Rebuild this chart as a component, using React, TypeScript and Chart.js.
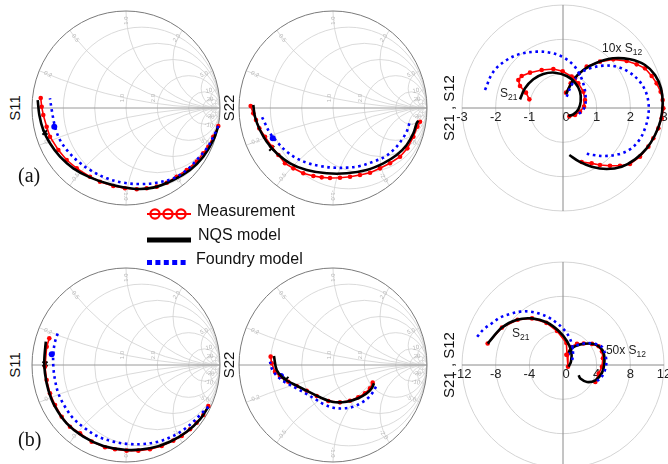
import React, { useEffect, useRef } from "react";
import { Chart, registerables } from "chart.js";
Chart.register(...registerables);

const SANS = "'Liberation Sans', Arial, sans-serif";
const SERIF = "'Liberation Serif', 'Times New Roman', serif";
const RED = "#ff0000";
const BLACK = "#000000";
const BLUE = "#0000ff";

// ---------------- Smith chart data (reflection coefficient, re / im) ----------------
// (a) S11
const measRe11a = [0.982, 0.929, 0.876, 0.822, 0.752, 0.646, 0.539, 0.433, 0.327, 0.22, 0.114, -0.011, -0.135, -0.277, -0.383, -0.524, -0.631, -0.72, -0.809, -0.844, -0.88, -0.897, -0.907];
const measIm11a = [-0.186, -0.296, -0.399, -0.467, -0.553, -0.639, -0.708, -0.77, -0.811, -0.828, -0.838, -0.828, -0.804, -0.76, -0.708, -0.622, -0.536, -0.433, -0.296, -0.193, -0.072, 0.013, 0.103];
const nqsRe11a = [0.982, 0.929, 0.822, 0.681, 0.503, 0.29, 0.078, -0.17, -0.383, -0.561, -0.702, -0.809, -0.88, -0.922, -0.939];
const nqsIm11a = [-0.186, -0.33, -0.502, -0.639, -0.742, -0.821, -0.832, -0.787, -0.715, -0.622, -0.502, -0.364, -0.227, -0.072, 0.082];
const fdyRe11a = [0.982, 0.929, 0.859, 0.752, 0.646, 0.503, 0.327, 0.149, -0.029, -0.205, -0.383, -0.507, -0.614, -0.702, -0.755, -0.79, -0.809];
const fdyIm11a = [-0.186, -0.296, -0.416, -0.536, -0.639, -0.725, -0.77, -0.784, -0.77, -0.725, -0.639, -0.553, -0.45, -0.33, -0.193, -0.021, 0.1];
const mark11a = [-0.862, -0.251];
const fdyMark11a = [-0.763, -0.193];

// (a) S22
const measRe22a = [0.926, 0.897, 0.855, 0.791, 0.713, 0.606, 0.5, 0.394, 0.287, 0.181, 0.074, -0.032, -0.12, -0.209, -0.316, -0.422, -0.511, -0.581, -0.652, -0.723, -0.784, -0.819, -0.848, -0.876];
const measIm22a = [-0.141, -0.193, -0.296, -0.416, -0.502, -0.57, -0.622, -0.667, -0.691, -0.708, -0.719, -0.722, -0.715, -0.701, -0.673, -0.622, -0.57, -0.485, -0.399, -0.296, -0.21, -0.124, -0.055, 0.02];
const nqsRe22a = [0.908, 0.89, 0.855, 0.784, 0.677, 0.535, 0.358, 0.146, -0.067, -0.28, -0.457, -0.599, -0.705, -0.777, -0.83, -0.848];
const nqsIm22a = [-0.131, -0.158, -0.261, -0.381, -0.485, -0.57, -0.639, -0.673, -0.673, -0.639, -0.57, -0.467, -0.347, -0.227, -0.09, 0.031];
const fdyRe22a = [0.812, 0.784, 0.731, 0.66, 0.553, 0.429, 0.287, 0.146, 0.004, -0.138, -0.262, -0.386, -0.493, -0.581, -0.67, -0.723, -0.766];
const fdyIm22a = [-0.158, -0.244, -0.33, -0.416, -0.502, -0.553, -0.598, -0.615, -0.615, -0.598, -0.57, -0.519, -0.45, -0.364, -0.261, -0.158, -0.072];
const mark22a = [-0.652, -0.416];
const fdyMark22a = [-0.641, -0.313];

// (b) S11
const measRe11b = [0.876, 0.822, 0.752, 0.681, 0.593, 0.503, 0.38, 0.255, 0.131, 0.007, -0.117, -0.223, -0.365, -0.489, -0.596, -0.684, -0.755, -0.809, -0.844, -0.862, -0.844, -0.816];
const measIm11b = [-0.423, -0.515, -0.595, -0.663, -0.732, -0.78, -0.835, -0.869, -0.883, -0.883, -0.869, -0.848, -0.79, -0.704, -0.636, -0.533, -0.412, -0.292, -0.155, -0.018, 0.189, 0.275];
const nqsRe11b = [0.876, 0.787, 0.646, 0.468, 0.255, 0.007, -0.241, -0.454, -0.631, -0.755, -0.826, -0.862, -0.869, -0.853];
const nqsIm11b = [-0.43, -0.56, -0.688, -0.791, -0.859, -0.876, -0.835, -0.739, -0.601, -0.43, -0.258, -0.086, 0.052, 0.24];
const fdyRe11b = [0.876, 0.805, 0.716, 0.61, 0.486, 0.344, 0.184, 0.024, -0.135, -0.295, -0.436, -0.561, -0.649, -0.72, -0.755, -0.773, -0.773, -0.755, -0.72];
const fdyIm11b = [-0.43, -0.498, -0.584, -0.67, -0.739, -0.79, -0.814, -0.814, -0.79, -0.739, -0.653, -0.55, -0.43, -0.292, -0.155, -0.018, 0.12, 0.24, 0.343];
const mark11b = [-0.862, 0.01];
const fdyMark11b = [-0.79, 0.11];

// (b) S22
const measRe22b = [0.422, 0.394, 0.34, 0.269, 0.181, 0.074, -0.05, -0.173, -0.28, -0.386, -0.476, -0.564, -0.617, -0.652, -0.663];
const measIm22b = [-0.182, -0.24, -0.292, -0.333, -0.368, -0.385, -0.371, -0.32, -0.265, -0.216, -0.172, -0.121, -0.069, 0.018, 0.086];
const nqsRe22b = [0.436, 0.412, 0.359, 0.269, 0.146, 0.003, -0.138, -0.28, -0.422, -0.529, -0.599, -0.628];
const nqsIm22b = [-0.189, -0.24, -0.292, -0.343, -0.378, -0.381, -0.333, -0.265, -0.196, -0.137, -0.052, 0.093];
const fdyRe22b = [0.457, 0.429, 0.376, 0.305, 0.216, 0.11, 0.003, -0.103, -0.191, -0.28, -0.369, -0.457, -0.535, -0.606, -0.652, -0.67];
const fdyIm22b = [-0.223, -0.275, -0.337, -0.388, -0.43, -0.447, -0.44, -0.402, -0.351, -0.299, -0.251, -0.206, -0.162, -0.103, -0.034, 0.034];
const mark22b = [-0.5, -0.148];
const fdyMark22b = [-0.553, -0.113];

// ---------------- Polar data (re / im) ----------------
// (a) S21 and 10x S12
const measRe21a = [-1.0, -1.099, -1.277, -1.327, -1.228, -0.98, -0.634, -0.287, -0.01, 0.257, 0.455, 0.604, 0.653, 0.624, 0.505, 0.356, 0.188];
const measIm21a = [0.252, 0.447, 0.641, 0.816, 0.932, 1.029, 1.107, 1.136, 1.068, 0.913, 0.718, 0.476, 0.233, 0.039, -0.107, -0.204, -0.243];
const nqsRe21a = [-1.277, -1.129, -0.881, -0.584, -0.238, 0.109, 0.356, 0.505, 0.525, 0.455, 0.307, 0.158];
const nqsIm21a = [0.252, 0.573, 0.835, 0.99, 1.029, 0.932, 0.738, 0.476, 0.184, -0.039, -0.184, -0.233];
const fdyRe21a = [-2.317, -2.069, -1.673, -1.277, -0.782, -0.386, 0.01, 0.307, 0.505, 0.624, 0.673, 0.653, 0.554, 0.406];
const fdyIm21a = [0.524, 1.058, 1.398, 1.573, 1.641, 1.612, 1.476, 1.252, 0.961, 0.641, 0.33, 0.058, -0.107, -0.204];
const measRe12a = [0.089, 0.228, 0.356, 0.703, 1.099, 1.495, 1.891, 2.188, 2.436, 2.634, 2.782, 2.901, 2.96, 2.98, 2.931, 2.832, 2.683, 2.535, 2.287, 1.99, 1.693, 1.396, 1.099, 0.851, 0.554];
const measIm12a = [0.447, 0.718, 0.864, 1.204, 1.35, 1.417, 1.369, 1.272, 1.155, 0.932, 0.718, 0.476, 0.233, -0.01, -0.301, -0.592, -0.883, -1.126, -1.417, -1.631, -1.68, -1.68, -1.66, -1.612, -1.573];
const nqsRe12a = [0.089, 0.307, 0.604, 1.0, 1.495, 1.99, 2.436, 2.733, 2.911, 2.96, 2.901, 2.733, 2.485, 2.139, 1.743, 1.297, 0.851, 0.485, 0.188];
const nqsIm12a = [0.408, 0.816, 1.107, 1.32, 1.447, 1.417, 1.252, 0.961, 0.573, 0.136, -0.35, -0.786, -1.175, -1.495, -1.709, -1.777, -1.709, -1.563, -1.369];
const fdyRe12a = [0.109, 0.257, 0.485, 0.802, 1.198, 1.594, 1.941, 2.238, 2.436, 2.535, 2.535, 2.436, 2.267, 1.99, 1.644, 1.248, 0.901, 0.653];
const fdyIm12a = [0.33, 0.67, 0.99, 1.155, 1.233, 1.204, 1.058, 0.816, 0.524, 0.184, -0.204, -0.592, -0.932, -1.204, -1.35, -1.398, -1.369, -1.32];

// (b) S21 and 50x S12
const measRe21b = [-8.95, -7.25, -5.39, -3.68, -1.98, -0.71, 0.4, 0.48, 0.59];
const measIm21b = [2.5, 4.36, 5.27, 5.43, 4.91, 3.96, 2.57, 1.19, -0.2];
const nqsRe21b = [-8.95, -7.25, -5.47, -3.68, -1.9, -0.51, 0.48, 0.99, 0.95, 0.67];
const nqsIm21b = [2.5, 4.36, 5.27, 5.43, 4.95, 3.96, 2.77, 1.58, 0.4, -0.2];
const fdyRe21b = [-10.2, -9.43, -8.44, -7.45, -6.26, -5.07, -3.88, -2.69, -1.7, -0.71, 0.08, 0.67, 1.07, 1.19, 1.07];
const fdyIm21b = [3.29, 4.16, 4.87, 5.54, 5.94, 6.22, 6.22, 5.94, 5.54, 4.87, 4.16, 3.37, 2.38, 1.39, 0.4];
const measRe12b = [0.4, 0.95, 1.66, 2.46, 3.45, 4.24, 4.63, 4.75, 4.63, 4.24, 3.84];
const measIm12b = [1.19, 2.1, 2.46, 2.5, 2.46, 2.18, 1.58, 0.79, -0.2, -0.99, -1.98];
const nqsRe12b = [0.48, 1.07, 2.06, 3.25, 4.24, 4.83, 4.91, 4.63, 3.84, 2.85, 2.06, 1.86];
const nqsIm12b = [1.19, 1.98, 2.38, 2.5, 2.18, 1.39, 0.2, -0.91, -1.78, -1.98, -1.58, -1.19];
const fdyRe12b = [0.67, 1.27, 2.46, 3.64, 4.63, 5.03, 5.15, 4.91, 4.44, 4.04];
const fdyIm12b = [1.19, 2.09, 2.5, 2.5, 2.1, 1.19, 0.2, -0.79, -1.58, -1.86];

// ---------------- Axis / grid values ----------------
const smithR = [0.2, 0.5, 1, 2, 5, 10, 20];
const smithX = [0.2, 0.5, 1, 2, 5, 10, 20];
const smithXLabels = ["0.2", "0.5", "1.0", "2.0", "5.0", "10", "20"];
const smithRLabeled = [1, 2];
const smithRLabels = ["1.0", "2.0"];
const ringsA = [1, 2, 3];
const ticksA = [-3, -2, -1, 0, 1, 2, 3];
const ringsB = [4, 8, 12];
const ticksB = [-12, -8, -4, 0, 4, 8, 12];

// ---------------- geometry ----------------
const SRX = 94, SRY = 97, SPAD = 8;
const PRX = 101, PRY = 103, PPAD = 16;

const pts = (re: number[], im: number[]) => re.map((r, i) => ({ x: r, y: im[i] }));

const smithGrid = {
  id: "smithGrid",
  beforeDatasetsDraw(chart: any) {
    const { ctx, scales } = chart;
    const xs = scales.x, ys = scales.y;
    const cx = xs.getPixelForValue(0), cy = ys.getPixelForValue(0);
    const rx = xs.getPixelForValue(1) - cx, ry = cy - ys.getPixelForValue(1);
    ctx.save();
    ctx.beginPath();
    ctx.ellipse(cx, cy, rx, ry, 0, 0, Math.PI * 2);
    ctx.clip();
    ctx.strokeStyle = "#d0d0d0";
    ctx.lineWidth = 0.8;
    for (const r of smithR) {
      const c = r / (1 + r), rad = 1 / (1 + r);
      ctx.beginPath();
      ctx.ellipse(cx + c * rx, cy, rad * rx, rad * ry, 0, 0, Math.PI * 2);
      ctx.stroke();
    }
    for (const xv of smithX) {
      for (const s of [1, -1]) {
        const rad = 1 / xv;
        ctx.beginPath();
        ctx.ellipse(cx + rx, cy - s * rad * ry, rad * rx, rad * ry, 0, 0, Math.PI * 2);
        ctx.stroke();
      }
    }
    ctx.restore();
    // labels
    ctx.save();
    ctx.fillStyle = "#b8b8b8";
    ctx.font = `6px ${SANS}`;
    ctx.textAlign = "center";
    ctx.textBaseline = "middle";
    smithX.forEach((xv, i) => {
      for (const s of [1, -1]) {
        const gx = (xv * xv - 1) / (xv * xv + 1), gy = (s * 2 * xv) / (xv * xv + 1);
        const th = Math.atan2(gy, gx);
        const px = cx + gx * 0.9 * rx, py = cy - gy * 0.9 * ry;
        ctx.save();
        ctx.translate(px, py);
        let rot = -th;
        if (Math.cos(th) < 0) rot += Math.PI;
        ctx.rotate(rot);
        ctx.fillText((s < 0 ? "-" : "") + smithXLabels[i], 0, 0);
        ctx.restore();
      }
    });
    smithRLabeled.forEach((r, i) => {
      const gx = (r - 1) / (r + 1);
      ctx.save();
      ctx.translate(cx + gx * rx - 4, cy - 10);
      ctx.rotate(-Math.PI / 2);
      ctx.fillText(smithRLabels[i], 0, 0);
      ctx.restore();
    });
    ctx.restore();
    // axis line & outer circle
    ctx.save();
    ctx.strokeStyle = "#9a9a9a";
    ctx.lineWidth = 1;
    ctx.beginPath();
    ctx.moveTo(cx - rx, cy);
    ctx.lineTo(cx + rx, cy);
    ctx.stroke();
    ctx.strokeStyle = "#7a7a7a";
    ctx.beginPath();
    ctx.ellipse(cx, cy, rx, ry, 0, 0, Math.PI * 2);
    ctx.stroke();
    ctx.restore();
  },
};

function drawSub(ctx: any, x: number, y: number, main: string, sub: string, pre: string) {
  ctx.font = `12px ${SANS}`;
  ctx.fillStyle = "#222";
  ctx.textAlign = "left";
  ctx.textBaseline = "alphabetic";
  const t = pre + main;
  ctx.fillText(t, x, y);
  const w = ctx.measureText(t).width;
  ctx.font = `8.5px ${SANS}`;
  ctx.fillText(sub, x + w, y + 2.5);
}

const polarGrid = {
  id: "polarGrid",
  beforeDatasetsDraw(chart: any, _args: any, opts: any) {
    const { ctx, scales } = chart;
    const xs = scales.x, ys = scales.y;
    const cx = xs.getPixelForValue(0), cy = ys.getPixelForValue(0);
    const rings: number[] = opts.rings, ticks: number[] = opts.ticks;
    const maxR = rings[rings.length - 1];
    ctx.save();
    ctx.strokeStyle = "#d4d4d4";
    ctx.lineWidth = 1;
    for (const r of rings) {
      const rx = xs.getPixelForValue(r) - cx, ry = cy - ys.getPixelForValue(r);
      ctx.beginPath();
      ctx.ellipse(cx, cy, rx, ry, 0, 0, Math.PI * 2);
      ctx.stroke();
    }
    ctx.strokeStyle = "#8a8a8a";
    ctx.beginPath();
    ctx.moveTo(xs.getPixelForValue(-maxR), cy);
    ctx.lineTo(xs.getPixelForValue(maxR), cy);
    ctx.moveTo(cx, ys.getPixelForValue(maxR));
    ctx.lineTo(cx, ys.getPixelForValue(-maxR));
    ctx.stroke();
    ctx.fillStyle = "#222";
    ctx.font = `13px ${SANS}`;
    ctx.textAlign = "center";
    ctx.textBaseline = "top";
    for (const t of ticks) {
      const off = t === 0 ? 3 : 0;
      ctx.fillText(String(t), xs.getPixelForValue(t) + off, cy + 3);
    }
    for (const a of opts.notes) {
      drawSub(ctx, xs.getPixelForValue(a.x), ys.getPixelForValue(a.y), "S", a.sub, a.pre);
    }
    ctx.restore();
  },
};

function lineSets(meas: any[], nqs: any[], fdy: any[], extra: any[] = []) {
  return [
    { data: fdy, borderColor: BLUE, backgroundColor: BLUE, borderWidth: 2.6, borderDash: [2.6, 3.6], showLine: true, pointRadius: 0, tension: 0.35, clip: false },
    { data: nqs, borderColor: BLACK, backgroundColor: BLACK, borderWidth: 2.6, showLine: true, pointRadius: 0, tension: 0.35, clip: false },
    { data: meas, borderColor: RED, backgroundColor: RED, borderWidth: 1.6, showLine: true, pointRadius: 2.3, pointBorderWidth: 0, tension: 0, clip: false },
    ...extra,
  ];
}

function smithConfig(meas: any[], nqs: any[], fdy: any[], mk: number[], bd: number[]) {
  return {
    type: "scatter",
    data: {
      datasets: lineSets(meas, nqs, fdy, [
        { data: [{ x: bd[0], y: bd[1] }], pointStyle: "circle", pointRadius: 3, backgroundColor: BLUE, borderColor: BLUE, borderWidth: 0, clip: false },
        { data: [{ x: mk[0], y: mk[1] }], pointStyle: "crossRot", pointRadius: 3.5, borderColor: BLACK, borderWidth: 2, clip: false },
      ]),
    },
    options: {
      responsive: false,
      animation: false,
      events: [],
      layout: { padding: SPAD },
      scales: {
        x: { type: "linear", min: -1, max: 1, display: false },
        y: { type: "linear", min: -1, max: 1, display: false },
      },
      plugins: { legend: { display: false }, tooltip: { enabled: false } },
    },
    plugins: [smithGrid],
  };
}

function polarConfig(meas: any[], nqs: any[], fdy: any[], meas2: any[], nqs2: any[], fdy2: any[], rings: number[], ticks: number[], notes: any[]) {
  const m = rings[rings.length - 1];
  return {
    type: "scatter",
    data: { datasets: [...lineSets(meas, nqs, fdy), ...lineSets(meas2, nqs2, fdy2)] },
    options: {
      responsive: false,
      animation: false,
      events: [],
      layout: { padding: PPAD },
      scales: {
        x: { type: "linear", min: -m, max: m, display: false },
        y: { type: "linear", min: -m, max: m, display: false },
      },
      plugins: { legend: { display: false }, tooltip: { enabled: false }, polarGrid: { rings, ticks, notes } },
    },
    plugins: [polarGrid],
  };
}

const legendPlugin = {
  id: "legendDraw",
  afterDraw(chart: any) {
    const ctx = chart.ctx;
    ctx.save();
    ctx.strokeStyle = RED;
    ctx.lineWidth = 2.2;
    ctx.beginPath();
    ctx.moveTo(7, 14);
    ctx.lineTo(51, 14);
    ctx.stroke();
    for (const cxp of [15, 28, 41]) {
      ctx.beginPath();
      ctx.arc(cxp, 14, 4.6, 0, Math.PI * 2);
      ctx.stroke();
    }
    ctx.strokeStyle = BLACK;
    ctx.lineWidth = 5;
    ctx.beginPath();
    ctx.moveTo(7, 40);
    ctx.lineTo(51, 40);
    ctx.stroke();
    ctx.fillStyle = BLUE;
    for (let i = 0; i < 5; i++) ctx.fillRect(7 + i * 8.4, 60, 5, 5);
    ctx.fillStyle = "#111";
    ctx.font = `16px ${SANS}`;
    ctx.textBaseline = "middle";
    ctx.fillText("Measurement", 57, 12);
    ctx.fillText("NQS model", 58, 36);
    ctx.fillText("Foundry model", 56, 60);
    ctx.restore();
  },
};

function ChartBox({ left, top, width, height, make }: any) {
  const ref = useRef<HTMLCanvasElement>(null);
  useEffect(() => {
    const chart = new Chart(ref.current as any, make());
    return () => chart.destroy();
  }, []);
  return (
    <canvas ref={ref} width={width} height={height} style={{ position: "absolute", left, top, width, height }} />
  );
}

function SmithBox({ cx, cy, make }: any) {
  return <ChartBox left={cx - SRX - SPAD} top={cy - SRY - SPAD} width={2 * SRX + 2 * SPAD} height={2 * SRY + 2 * SPAD} make={make} />;
}

function PolarBox({ cx, cy, make }: any) {
  return <ChartBox left={cx - PRX - PPAD} top={cy - PRY - PPAD} width={2 * PRX + 2 * PPAD} height={2 * PRY + 2 * PPAD} make={make} />;
}

function VLabel({ x, y, text }: any) {
  return (
    <div style={{ position: "absolute", left: x, top: y, transform: "translate(-50%,-50%) rotate(-90deg)", whiteSpace: "nowrap", font: `15px ${SANS}`, color: "#111" }}>
      {text}
    </div>
  );
}

export default function App() {
  useEffect(() => {
    document.body.style.margin = "0";
  }, []);
  return (
    <div style={{ position: "fixed", left: 0, top: 0, width: 668, height: 464, overflow: "hidden", background: "#fff" }}>
      <SmithBox cx={126} cy={108} make={() => smithConfig(pts(measRe11a, measIm11a), pts(nqsRe11a, nqsIm11a), pts(fdyRe11a, fdyIm11a), mark11a, fdyMark11a)} />
      <SmithBox cx={333} cy={108} make={() => smithConfig(pts(measRe22a, measIm22a), pts(nqsRe22a, nqsIm22a), pts(fdyRe22a, fdyIm22a), mark22a, fdyMark22a)} />
      <SmithBox cx={126} cy={365} make={() => smithConfig(pts(measRe11b, measIm11b), pts(nqsRe11b, nqsIm11b), pts(fdyRe11b, fdyIm11b), mark11b, fdyMark11b)} />
      <SmithBox cx={333} cy={365} make={() => smithConfig(pts(measRe22b, measIm22b), pts(nqsRe22b, nqsIm22b), pts(fdyRe22b, fdyIm22b), mark22b, fdyMark22b)} />
      <PolarBox cx={563} cy={108} make={() => polarConfig(pts(measRe21a, measIm21a), pts(nqsRe21a, nqsIm21a), pts(fdyRe21a, fdyIm21a), pts(measRe12a, measIm12a), pts(nqsRe12a, nqsIm12a), pts(fdyRe12a, fdyIm12a), ringsA, ticksA, [
        { x: -1.87, y: 0.32, sub: "21", pre: "" },
        { x: 1.16, y: 1.63, sub: "12", pre: "10x " },
      ])} />
      <PolarBox cx={563} cy={365} make={() => polarConfig(pts(measRe21b, measIm21b), pts(nqsRe21b, nqsIm21b), pts(fdyRe21b, fdyIm21b), pts(measRe12b, measIm12b), pts(nqsRe12b, nqsIm12b), pts(fdyRe12b, fdyIm12b), ringsB, ticksB, [
        { x: -6.06, y: 3.26, sub: "21", pre: "" },
        { x: 5.1, y: 1.28, sub: "12", pre: "50x " },
      ])} />
      <ChartBox left={140} top={200} width={180} height={74} make={() => ({
        type: "scatter",
        data: { datasets: [] },
        options: { responsive: false, animation: false, events: [], scales: { x: { display: false }, y: { display: false } }, plugins: { legend: { display: false }, tooltip: { enabled: false } } },
        plugins: [legendPlugin],
      })} />
      <VLabel x={14} y={108} text="S11" />
      <VLabel x={228} y={108} text="S22" />
      <VLabel x={14} y={365} text="S11" />
      <VLabel x={228} y={365} text="S22" />
      <VLabel x={448} y={108} text="S21 , S12" />
      <VLabel x={448} y={365} text="S21 , S12" />
      <div style={{ position: "absolute", left: 18, top: 164, font: `20px ${SERIF}`, color: "#111" }}>(a)</div>
      <div style={{ position: "absolute", left: 18, top: 428, font: `20px ${SERIF}`, color: "#111" }}>(b)</div>
    </div>
  );
}
